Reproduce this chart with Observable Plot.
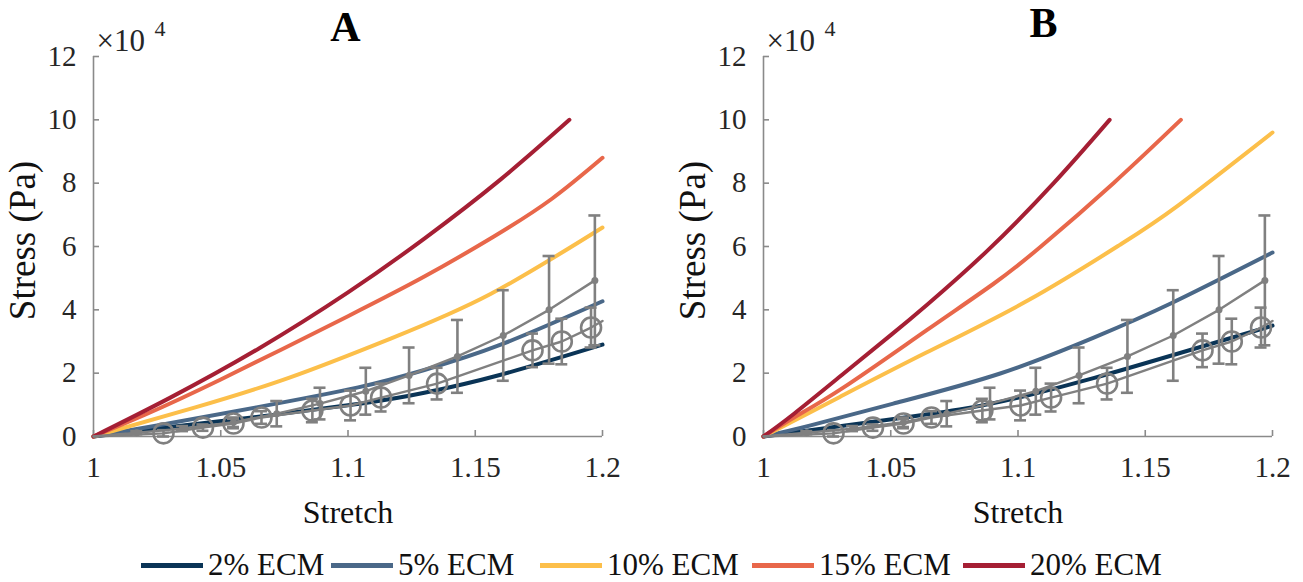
<!DOCTYPE html>
<html>
<head>
<meta charset="utf-8">
<script src="https://cdn.jsdelivr.net/npm/d3@7"></script>
<script src="https://cdn.jsdelivr.net/npm/@observablehq/plot@0.6"></script>
<style>
  html, body { margin: 0; padding: 0; background: #fff; }
  #wrap { position: relative; width: 1303px; height: 582px; background: #fff; font-family: "Liberation Serif", serif; overflow: hidden; }
  #wrap svg text { font-family: "Liberation Serif", serif; }
  #pA, #pB { position: absolute; top: 0; }
  #pA { left: 0; }
  #pB { left: 651px; }
  .leg { position: absolute; top: 545px; height: 40px; display: flex; align-items: center; font-family: "Liberation Serif", serif; font-size: 31px; color: #111; white-space: nowrap; }
  .sw { width: 62px; height: 5px; margin-right: 5px; }
</style>
</head>
<body>
<div id="wrap">
  <div id="pA"></div>
  <div id="pB"></div>
  <div id="legend"></div>
</div>
<script>
// ---------------- data ----------------
const seriesNames = ["2% ECM", "5% ECM", "10% ECM", "15% ECM", "20% ECM"];
const seriesColors = ["#0a3456", "#4a6888", "#fcbf4a", "#e8674a", "#a51f34"];
const panelTitles = ["A", "B"];
const xTicks = [1, 1.05, 1.1, 1.15, 1.2];
const yTicks = [0, 2, 4, 6, 8, 10, 12];

// Model curves, panel A: [stretch, stress (x10^4 Pa)]
const curveA2  = [[1,0],[1.025,0.25],[1.064,0.62],[1.106,1.05],[1.13,1.38],[1.16,1.95],[1.2,2.9]];
const curveA5  = [[1,0],[1.025,0.35],[1.064,0.92],[1.104,1.55],[1.13,2.1],[1.16,2.9],[1.2,4.27]];
const curveA10 = [[1,0],[1.04,0.92],[1.077,1.86],[1.117,3.1],[1.156,4.5],[1.2,6.6]];
const curveA15 = [[1,0],[1.02,0.68],[1.05,1.8],[1.1,3.8],[1.13,5.05],[1.157,6.3],[1.18,7.5],[1.2,8.8]];
const curveA20 = [[1,0],[1.03,1.22],[1.065,2.78],[1.10,4.55],[1.13,6.25],[1.16,8.12],[1.187,10]];

// Model curves, panel B
const curveB2  = [[1,0],[1.038,0.41],[1.077,0.85],[1.104,1.3],[1.13,1.85],[1.16,2.55],[1.2,3.5]];
const curveB5  = [[1,0],[1.0185,0.35],[1.051,1.04],[1.093,1.99],[1.13,3.13],[1.16,4.2],[1.2,5.81]];
const curveB10 = [[1,0],[1.03,1.25],[1.064,2.65],[1.104,4.3],[1.14,6.05],[1.163,7.3],[1.2,9.6]];
const curveB15 = [[1,0],[1.012,0.6],[1.0315,1.55],[1.064,3.35],[1.09,4.8],[1.109,6.0],[1.1375,8.0],[1.164,10]];
const curveB20 = [[1,0],[1.012,0.72],[1.0315,1.99],[1.05,3.2],[1.0644,4.17],[1.088,5.87],[1.114,8.0],[1.136,10]];

// Experimental data (same in both panels)
const expDotStretch = [1, 1.017, 1.035, 1.055, 1.072, 1.089, 1.107, 1.124, 1.143, 1.161, 1.179, 1.197];
const expDotStress  = [0, 0.12, 0.25, 0.45, 0.72, 1.04, 1.43, 1.93, 2.53, 3.19, 4.0, 4.93];
const expDotErr     = [0, 0.05, 0.08, 0.15, 0.4, 0.5, 0.74, 0.88, 1.15, 1.43, 1.7, 2.05];

const expCircStretch = [1, 1.0275, 1.043, 1.055, 1.066, 1.086, 1.101, 1.113, 1.135, 1.1725, 1.184, 1.1955, 1.2];
const expCircStress  = [0, 0.1, 0.28, 0.41, 0.6, 0.82, 0.98, 1.23, 1.67, 2.72, 3.0, 3.44, 3.65];
const expCircErr     = [0, 0.1, 0.1, 0.15, 0.2, 0.37, 0.47, 0.44, 0.5, 0.53, 0.72, 0.63, null];

// ---------------- build tables ----------------
function curveRows(curves) {
  const rows = [];
  curves.forEach((c, k) => c.forEach(([x, y]) => rows.push({series: seriesNames[k], x, y})));
  return rows;
}
const curvesA = curveRows([curveA2, curveA5, curveA10, curveA15, curveA20]);
const curvesB = curveRows([curveB2, curveB5, curveB10, curveB15, curveB20]);
const expDot = expDotStretch.map((x, i) => ({x, y: expDotStress[i], e: expDotErr[i]}));
const expCirc = expCircStretch.map((x, i) => ({x, y: expCircStress[i], e: expCircErr[i]}));

const GRAY = "#808080";
const AXIS = "#8a8a8a";
const FONT = "Liberation Serif";

function errMarks(data, r, filled) {
  const d = data.filter(p => p.e > 0);
  return [
    Plot.ruleX(d, {x: "x", y1: p => p.y - p.e, y2: p => p.y + p.e, stroke: GRAY, strokeWidth: 2.6}),
    Plot.ruleY(d, {y: p => p.y + p.e, x1: "x", x2: "x", insetLeft: -6, insetRight: -6, stroke: GRAY, strokeWidth: 2.6}),
    Plot.ruleY(d, {y: p => p.y - p.e, x1: "x", x2: "x", insetLeft: -6, insetRight: -6, stroke: GRAY, strokeWidth: 2.6}),
    Plot.line(data, {x: "x", y: "y", stroke: GRAY, strokeWidth: 2.4}),
    filled
      ? Plot.dot(d, {x: "x", y: "y", r, fill: GRAY})
      : Plot.dot(d, {x: "x", y: "y", r, stroke: GRAY, strokeWidth: 2.6, fill: "none"})
  ];
}

function panel(curves, title, margins, width, titleDx, titleDy) {
  return Plot.plot({
    width,
    height: 535,
    marginTop: 56,
    marginBottom: 99,
    marginLeft: margins[0],
    marginRight: margins[1],
    style: {fontFamily: FONT, background: "#fff", overflow: "visible"},
    x: {domain: [1, 1.2], label: null},
    y: {domain: [0, 12], label: null},
    color: {domain: seriesNames, range: seriesColors},
    marks: [
      // axis lines
      Plot.ruleX([1], {stroke: AXIS, strokeWidth: 1.6}),
      Plot.ruleY([0], {stroke: AXIS, strokeWidth: 1.6}),
      // inward ticks
      Plot.axisX({ticks: xTicks, tickSize: -6, stroke: AXIS, strokeWidth: 1.6, fill: "none", label: null}),
      Plot.axisY({ticks: yTicks, tickSize: -6, stroke: AXIS, strokeWidth: 1.6, fill: "none", label: null}),
      // tick labels
      Plot.axisX({ticks: xTicks, tickSize: 0, tickPadding: 20, tickFormat: d => String(+d.toFixed(2)), fontSize: 29, fontFamily: FONT, fill: "#262626", label: null}),
      Plot.axisY({ticks: yTicks, tickSize: 0, tickPadding: 17, fontSize: 29, fontFamily: FONT, fill: "#262626", label: null}),
      // model curves
      Plot.line(curves, {x: "x", y: "y", z: "series", stroke: "series", strokeWidth: 4, curve: "natural"}),
      // experimental data
      ...errMarks(expDot, 3.5, true),
      ...errMarks(expCirc, 10, false),
      // labels
      Plot.text(["Stretch"], {text: d => d, frameAnchor: "bottom", lineAnchor: "middle", textAnchor: "middle", dy: 76, fontSize: 32, fontFamily: FONT, fill: "#111"}),
      Plot.text(["Stress (Pa)"], {text: d => d, frameAnchor: "left", lineAnchor: "middle", textAnchor: "middle", rotate: -90, dx: -70, dy: -6, fontSize: 37, fontFamily: FONT, fill: "#111"}),
      Plot.text(["\u00d710"], {text: d => d, frameAnchor: "top-left", lineAnchor: "middle", textAnchor: "start", dx: 3, dy: -15, fontSize: 31, fontFamily: FONT, fill: "#262626"}),
      Plot.text(["4"], {text: d => d, frameAnchor: "top-left", lineAnchor: "middle", textAnchor: "start", dx: 61, dy: -28, fontSize: 22, fontFamily: FONT, fill: "#262626"}),
      Plot.text([title], {text: d => d, frameAnchor: "top-left", lineAnchor: "middle", textAnchor: "middle", dx: titleDx, dy: titleDy, fontSize: 42, fontWeight: "bold", fontFamily: FONT, fill: "#000"})
    ]
  });
}

document.getElementById("pA").appendChild(panel(curvesA, panelTitles[0], [93, 49], 651, 252, -29));
document.getElementById("pB").appendChild(panel(curvesB, panelTitles[1], [112, 31], 652, 280, -33));

// legend
const legLefts = [141, 331, 540, 752, 963];
const legend = document.getElementById("legend");
seriesNames.forEach((name, i) => {
  const item = document.createElement("div");
  item.className = "leg";
  item.style.left = legLefts[i] + "px";
  const sw = document.createElement("div");
  sw.className = "sw";
  sw.style.background = seriesColors[i];
  const tx = document.createElement("span");
  tx.textContent = name;
  item.appendChild(sw);
  item.appendChild(tx);
  legend.appendChild(item);
});
</script>
</body>
</html>
